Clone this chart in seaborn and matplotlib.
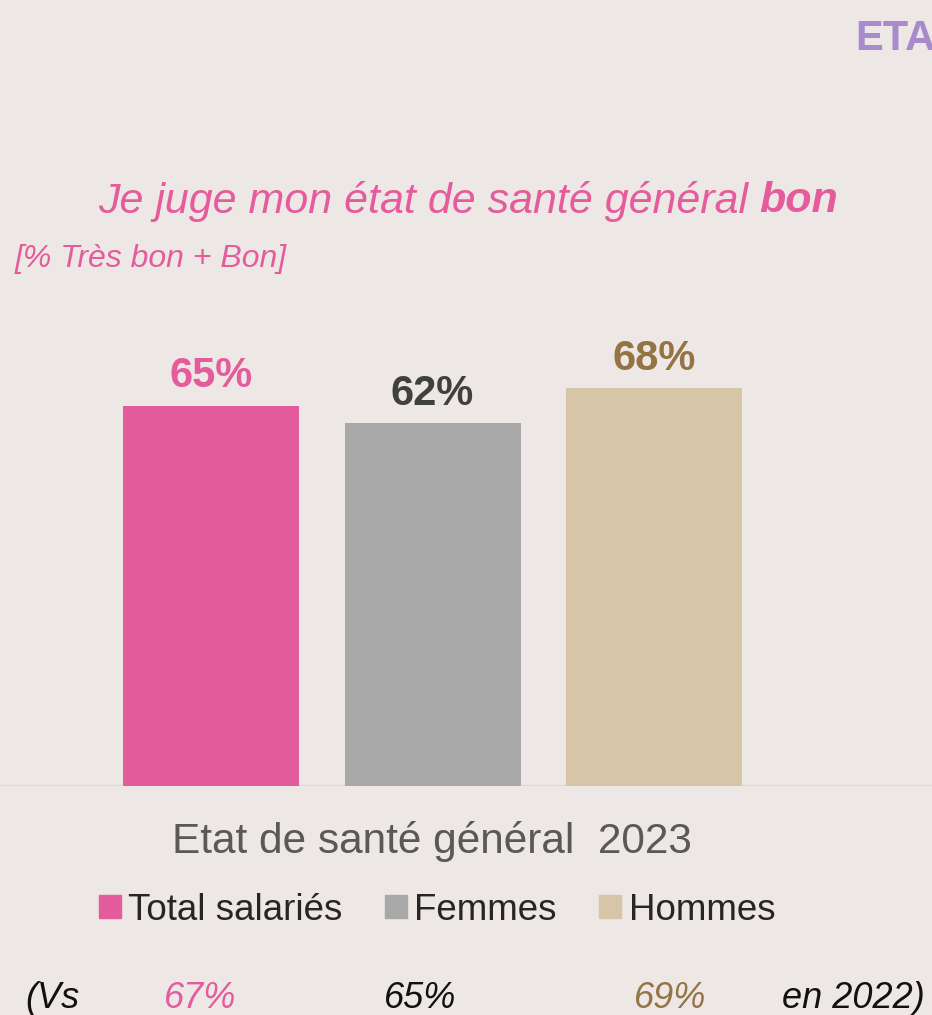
import matplotlib
matplotlib.use("Agg")
import matplotlib.pyplot as plt
import seaborn as sns

# data
groups = ["Total salariés", "Femmes", "Hommes"]
values_2023 = [65, 62, 68]
values_2022 = [67, 65, 69]
bar_colors = ["#E55C9C", "#A8A8A8", "#D7C5A7"]
label_colors = ["#E55C9C", "#404040", "#947444"]
prev_colors = ["#E55C9C", "#111111", "#947444"]

bg = "#EDE8E5"
sns.set_theme(style="white", rc={"axes.facecolor": bg, "figure.facecolor": bg})
plt.rcParams["font.family"] = ["Liberation Sans", "DejaVu Sans"]

fig = plt.figure(figsize=(9.32, 10.15), dpi=100)
ax = fig.add_axes([0, 0.2256, 1, 0.479])

sns.barplot(x=groups, y=values_2023, hue=groups, palette=bar_colors,
            width=0.795, saturation=1, legend=False, linewidth=0, ax=ax)
ax.set_xlim(-0.953, 3.255)
ax.set_ylim(0, 83.1)
ax.axis("off")
ax.axhline(0, color="#D9D9D9", lw=2.5, zorder=0)

for i, v in enumerate(values_2023):
    ax.text(i, v + 1.6, f"{v}%", ha="center", va="bottom", fontsize=30,
            fontweight="bold", color=label_colors[i])

fig.text(855 / 932, 1 - 39 / 1015, "ETAT", ha="left", va="center",
         fontsize=30, fontweight="bold", color="#A78BCB")
fig.text(760 / 932, 1 - 201 / 1015, "Je juge mon état de santé général ",
         ha="right", va="center", fontsize=31, style="italic", color="#E55C9C")
fig.text(838 / 932, 1 - 201 / 1015, "bon", ha="right", va="center",
         fontsize=31, style="italic", fontweight="bold", color="#E55C9C")
fig.text(15 / 932, 1 - 259 / 1015, "[% Très bon + Bon]", ha="left", va="center",
         fontsize=23, style="italic", color="#E55C9C")

fig.text(432 / 932, 1 - 842 / 1015, "Etat de santé général  2023", ha="center",
         va="center", fontsize=30.5, color="#595959")

handles = [plt.Rectangle((0, 0), 1, 1, color=c) for c in bar_colors]
fig.legend(handles, groups, loc="center", bbox_to_anchor=(437 / 932, 1 - 910 / 1015),
           ncol=3, frameon=False, fontsize=26.5, handlelength=0.6, handleheight=0.6,
           handletextpad=0.2, columnspacing=1.15)

fig.text(25 / 932, 1 - 999 / 1015, "(Vs", ha="left", va="center", fontsize=26,
         style="italic", color="#111111")
for x, v, c in zip([200, 420, 670], values_2022, prev_colors):
    fig.text(x / 932, 1 - 999 / 1015, f"{v}%", ha="center", va="center",
             fontsize=26, style="italic", color=c)
fig.text(925 / 932, 1 - 999 / 1015, "en 2022)", ha="right", va="center",
         fontsize=26, style="italic", color="#111111")

fig.savefig("out.png", dpi=100, facecolor=bg)
